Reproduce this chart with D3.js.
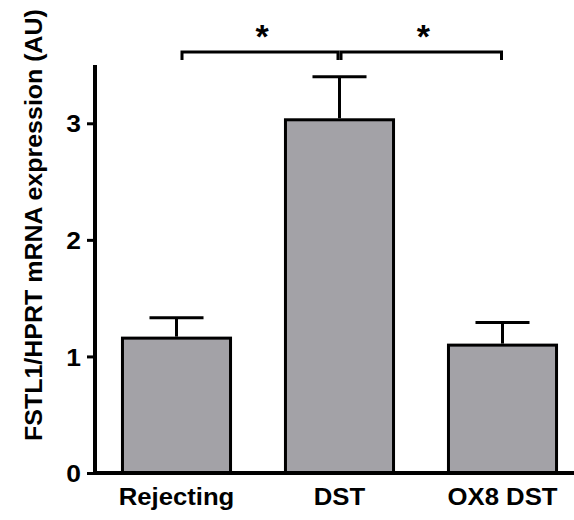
<!DOCTYPE html>
<html><head><meta charset="utf-8">
<script src="https://cdn.jsdelivr.net/npm/d3@7"></script>
<style>body{margin:0;background:#fff}svg{display:block}text{font-family:"Liberation Sans",Arial,sans-serif;font-weight:bold}</style>
</head><body><svg id="c" width="574" height="520"></svg>
<script>
const categories = ["Rejecting", "DST", "OX8 DST"];
const means = [1.157, 3.03, 1.097];
const errors = [0.175, 0.37, 0.195];
const yTicks = [0, 1, 2, 3];
const comparisons = [["Rejecting", "DST", "*"], ["DST", "OX8 DST", "*"]];

const svg = d3.select("#c");
const x = d3.scaleBand().domain(categories).range([95, 584]).paddingInner(0.337).paddingOuter(0.1685);
const y = d3.scaleLinear().domain([0, 3.5]).range([473, 65]);

function stretch(sel, k) {
  sel.each(function() {
    const w = this.getComputedTextLength();
    d3.select(this).attr("textLength", w * k).attr("lengthAdjust", "spacingAndGlyphs");
  });
}

// bars
svg.append("g").selectAll("rect").data(categories).join("rect")
  .attr("x", d => x(d)).attr("width", x.bandwidth())
  .attr("y", (d,i) => y(means[i])).attr("height", (d,i) => y(0) - y(means[i]))
  .attr("fill", "#a3a2a7").attr("stroke", "#000").attr("stroke-width", 3);

// error bars
const eg = svg.append("g").attr("stroke", "#000").attr("stroke-width", 3);
categories.forEach((c, i) => {
  const cx = x(c) + x.bandwidth()/2;
  eg.append("line").attr("x1", cx).attr("x2", cx).attr("y1", y(means[i]) - 1.5).attr("y2", y(means[i] + errors[i]));
  eg.append("line").attr("x1", cx - x.bandwidth()/4).attr("x2", cx + x.bandwidth()/4)
    .attr("y1", y(means[i] + errors[i])).attr("y2", y(means[i] + errors[i]));
});

// y axis
const ya = svg.append("g").attr("transform", "translate(95,0)")
  .call(d3.axisLeft(y).tickValues(yTicks).tickFormat(d3.format("d")).tickSize(8).tickPadding(6));
ya.select(".domain").attr("stroke-width", 4).attr("d", `M0,${y(3.5)}V${y(0)+2}`);
ya.selectAll(".tick line").attr("stroke-width", 3);
ya.selectAll(".tick text").attr("font-size", 24).attr("fill", "#000").attr("dy", "0.36em")
  .style("font-family", '"Liberation Sans",Arial,sans-serif').style("font-weight", "bold");
stretch(ya.selectAll(".tick text"), 1.1);

// x axis
const xa = svg.append("g").attr("transform", `translate(0,${y(0)})`)
  .call(d3.axisBottom(x).tickSize(0).tickPadding(15));
xa.select(".domain").attr("stroke-width", 4).attr("d", "M93,0H580");
xa.selectAll(".tick text").attr("font-size", 24).attr("fill", "#000")
  .style("font-family", '"Liberation Sans",Arial,sans-serif').style("font-weight", "bold");
stretch(xa.selectAll(".tick text"), 1.07);

// y title
const yt = svg.append("text").attr("text-anchor", "middle").attr("font-size", 24)
  .text("FSTL1/HPRT mRNA expression (AU)");
const L = yt.node().getComputedTextLength();
const k = 432 / L;
yt.attr("transform", `translate(42,225) rotate(-90) scale(${k},1)`);

// significance brackets
const bg = svg.append("g");
const by = 52;
comparisons.forEach(([a, b, s], i) => {
  const x1 = x(a) + x.bandwidth()/2 + (i === 0 ? 5.5 : 1.5);
  const x2 = x(b) + x.bandwidth()/2 + (i === 0 ? -1.5 : -1);
  bg.append("path").attr("d", `M${x1},${by+8}V${by}H${x2}V${by+8}`)
    .attr("fill", "none").attr("stroke", "#000").attr("stroke-width", 3);
  bg.append("text").attr("x", (x1 + x2)/2 + 2).attr("y", 48).attr("text-anchor", "middle")
    .attr("font-size", 34).text(s);
});
</script></body></html>
